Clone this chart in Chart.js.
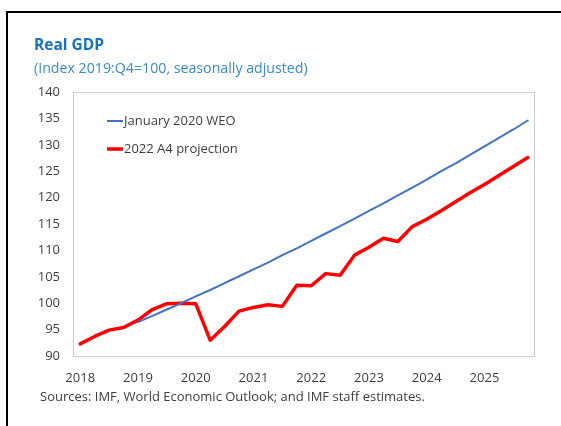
<!DOCTYPE html>
<html>
<head>
<meta charset="utf-8">
<script src="https://cdn.jsdelivr.net/npm/chart.js@4"></script>
<style>
  html, body { margin: 0; padding: 0; background: #fff; }
  #wrap { position: relative; width: 561px; height: 426px; overflow: hidden; font-family: "Open Sans", "Noto Sans", sans-serif; }
  #frame { position: absolute; left: 6px; top: 11px; right: -10px; bottom: -10px; border-left: 2px solid #000; border-top: 2px solid #000; }
  #chart { position: absolute; left: 0; top: 0; }
  .txt { position: absolute; white-space: nowrap; }
  #title { left: 34px; top: 37px; font-size: 15.5px; line-height: 15.5px; font-weight: 700; color: #1570c0; }
  #subtitle { left: 34px; top: 61.4px; font-size: 14.2px; line-height: 14.2px; color: #3a8ad0; }
  #source { left: 40px; top: 389.5px; font-size: 13px; line-height: 13px; color: #404040; }
</style>
</head>
<body>
<div id="wrap">
  <div id="frame"></div>
  <canvas id="chart" width="561" height="426"></canvas>
  <div class="txt" id="title">Real GDP</div>
  <div class="txt" id="subtitle">(Index 2019:Q4=100, seasonally adjusted)</div>
  <div class="txt" id="source">Sources: IMF, World Economic Outlook; and IMF staff estimates.</div>
</div>
<script>
// quarters 2018Q1 .. 2025Q4
const years = ["2018", "2019", "2020", "2021", "2022", "2023", "2024", "2025"];
const quarters = years.flatMap((y) => [y + "Q1", y + "Q2", y + "Q3", y + "Q4"]);

// January 2020 WEO (starts 2019Q1)
const weoJan2020 = [
  null, null, null, null,
  96.4, 97.6, 98.8, 100.0,
  101.3, 102.5, 103.8, 105.1,
  106.4, 107.7, 109.1, 110.4,
  111.8, 113.2, 114.6, 116.0,
  117.5, 118.9, 120.4, 121.9,
  123.4, 125.0, 126.5, 128.1,
  129.7, 131.3, 132.9, 134.6
];

// 2022 A4 projection
const projection2022 = [
  92.3, 93.7, 94.9, 95.4,
  96.8, 98.8, 99.9, 100.0,
  99.9, 93.0, 95.6, 98.5,
  99.2, 99.7, 99.4, 103.4,
  103.3, 105.6, 105.3, 109.1,
  110.6, 112.3, 111.7, 114.5,
  115.9, 117.5, 119.2, 120.9,
  122.5, 124.2, 125.9, 127.6
];

const yMin = 90, yMax = 140, yStep = 5;

const plotFrame = {
  id: "plotFrame",
  beforeDatasetsDraw(chart) {
    const { ctx, chartArea: a } = chart;
    ctx.save();
    ctx.strokeStyle = "#cfcfcf";
    ctx.lineWidth = 1;
    ctx.strokeRect(Math.round(a.left) + 0.5, Math.round(a.top) + 0.5,
      Math.round(a.right - a.left) - 1, Math.round(a.bottom - a.top));
    ctx.restore();
  },
};

// legend drawn inside the plot, top left
const innerLegend = {
  id: "innerLegend",
  afterDraw(chart) {
    const { ctx, chartArea: a } = chart;
    ctx.save();
    ctx.font = "13px 'Open Sans', 'Noto Sans', sans-serif";
    ctx.textBaseline = "middle";
    ctx.fillStyle = "#404040";
    chart.data.datasets.forEach((ds, i) => {
      const x = a.left + 34;
      const y = a.top + 29 + i * 28;
      ctx.strokeStyle = ds.borderColor;
      ctx.lineWidth = ds.borderWidth;
      ctx.beginPath();
      ctx.moveTo(x, y);
      ctx.lineTo(x + 16, y);
      ctx.stroke();
      ctx.fillText(ds.label, x + 17, y + 0.5);
    });
    ctx.restore();
  },
};

new Chart(document.getElementById("chart"), {
  type: "line",
  data: {
    labels: quarters,
    datasets: [
      {
        label: "January 2020 WEO",
        data: weoJan2020,
        borderColor: "#4472c4",
        borderWidth: 2,
        pointRadius: 0,
        borderJoinStyle: "round",
        borderCapStyle: "round",
      },
      {
        label: "2022 A4 projection",
        data: projection2022,
        borderColor: "#ff0000",
        borderWidth: 3.5,
        pointRadius: 0,
        borderJoinStyle: "round",
        borderCapStyle: "round",
      },
    ],
  },
  options: {
    responsive: false,
    animation: false,
    layout: { padding: { left: 8, top: 92, right: 26, bottom: 30 } },
    plugins: { legend: { display: false }, tooltip: { enabled: false } },
    scales: {
      x: {
        type: "category",
        offset: true,
        grid: { display: false, drawTicks: false },
        border: { display: false },
        afterFit: (s) => { s.height = 40; },
        ticks: {
          autoSkip: false,
          maxRotation: 0,
          padding: 14,
          color: "#404040",
          font: { family: "'Open Sans', 'Noto Sans', sans-serif", size: 13 },
          callback: (v, i) => (i % 4 === 0 ? quarters[i].slice(0, 4) : ""),
        },
      },
      y: {
        min: yMin,
        max: yMax,
        grid: { display: false, drawTicks: false },
        border: { display: false },
        afterFit: (s) => { s.width = 65; },
        ticks: {
          stepSize: yStep,
          padding: 13,
          color: "#404040",
          font: { family: "'Open Sans', 'Noto Sans', sans-serif", size: 13 },
        },
      },
    },
  },
  plugins: [plotFrame, innerLegend],
});
</script>
</body>
</html>
